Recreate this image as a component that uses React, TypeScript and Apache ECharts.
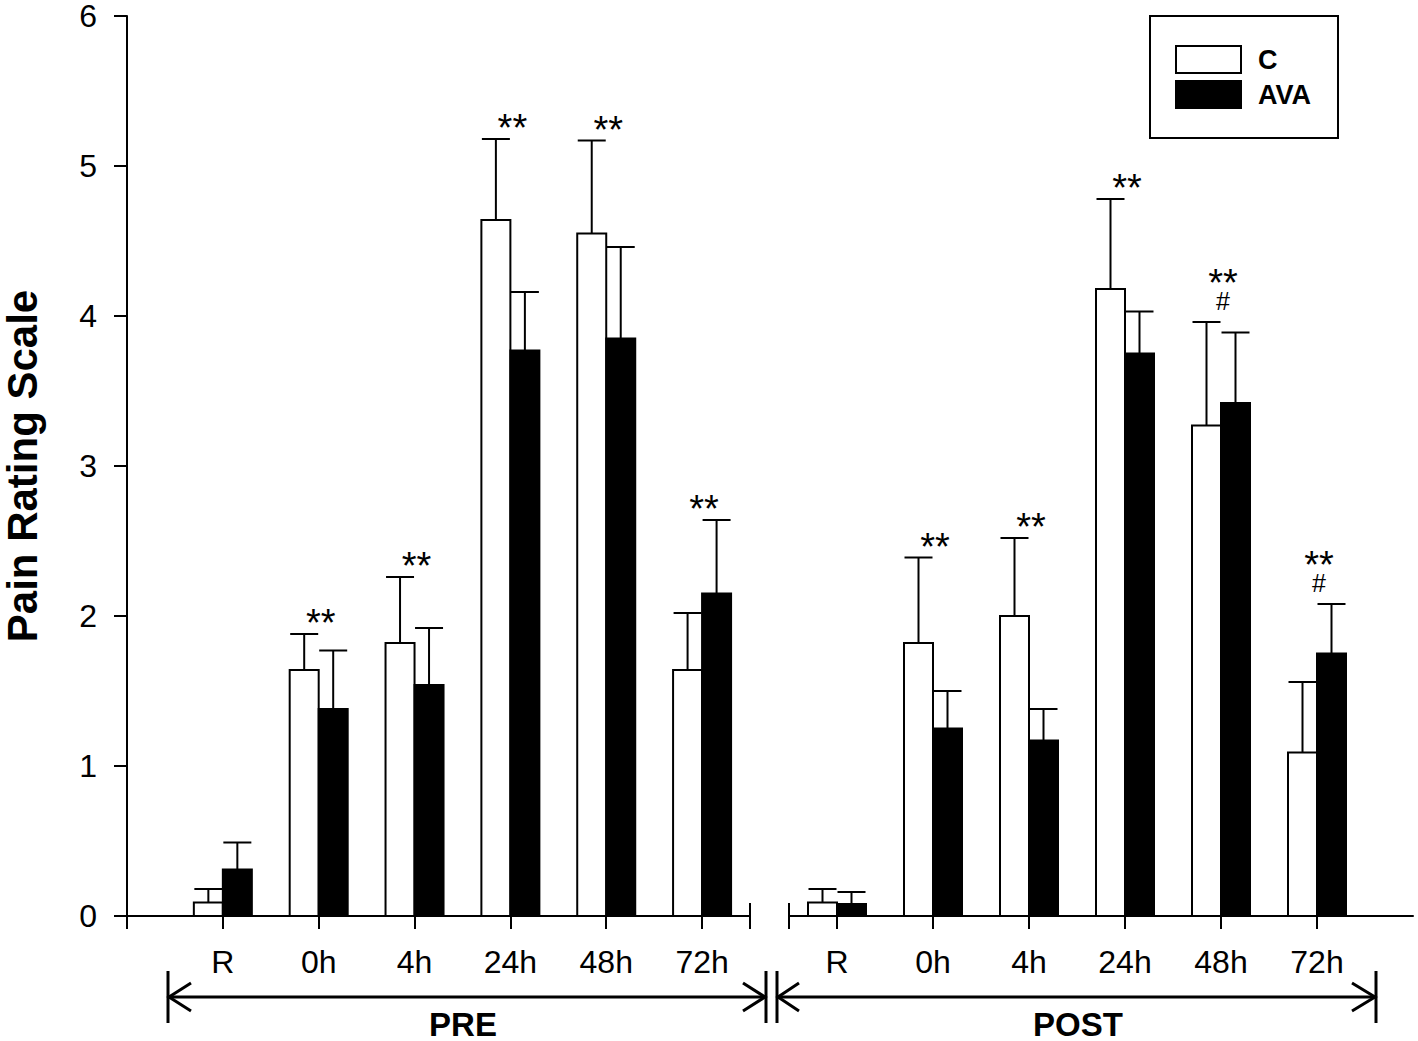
import { useEffect, useRef } from "react";
import * as echarts from "echarts";

const FONT = "'Liberation Sans', Arial, Helvetica, sans-serif";

// Time points (same for PRE and POST blocks)
const categories = ["R", "0h", "4h", "24h", "48h", "72h"];
const positions = [1, 2, 3, 4, 5, 6];

// PRE block
const preC = [0.09, 1.64, 1.82, 4.64, 4.55, 1.64];
const preCUpper = [0.18, 1.88, 2.26, 5.18, 5.17, 2.02];
const preAVA = [0.31, 1.38, 1.54, 3.77, 3.85, 2.15];
const preAVAUpper = [0.49, 1.77, 1.92, 4.16, 4.46, 2.64];

// POST block
const postC = [0.09, 1.82, 2.0, 4.18, 3.27, 1.09];
const postCUpper = [0.18, 2.39, 2.52, 4.78, 3.96, 1.56];
const postAVA = [0.08, 1.25, 1.17, 3.75, 3.42, 1.75];
const postAVAUpper = [0.16, 1.5, 1.38, 4.03, 3.89, 2.08];

// Significance marks
const preStars = ["", "**", "**", "**", "**", "**"];
const preHash = ["", "", "", "", "", ""];
const postStars = ["", "**", "**", "**", "**", "**"];
const postHash = ["", "", "", "", "#", "#"];

const yTicks = [0, 1, 2, 3, 4, 5, 6];

const BAR_W = 29;

function barSeries(
  name: string,
  axisIndex: number,
  means: number[],
  uppers: number[],
  side: number,
  fill: string
) {
  return {
    type: "custom",
    name,
    xAxisIndex: axisIndex,
    yAxisIndex: axisIndex,
    itemStyle: { color: fill, borderColor: "#000", borderWidth: 2 },
    encode: { x: 0, y: [1, 2] },
    data: positions.map((p, i) => [p, means[i], uppers[i]]),
    renderItem: (_params: any, api: any) => {
      const x = api.value(0);
      const v = api.value(1);
      const u = api.value(2);
      const base = api.coord([x, 0]);
      const top = api.coord([x, v]);
      const up = api.coord([x, u]);
      const left = side < 0 ? base[0] - BAR_W : base[0];
      const cx = left + BAR_W / 2;
      return {
        type: "group",
        children: [
          {
            type: "line",
            shape: { x1: cx, y1: top[1], x2: cx, y2: up[1] },
            style: { stroke: "#000", lineWidth: 2 },
          },
          {
            type: "line",
            shape: { x1: cx - 14, y1: up[1], x2: cx + 14, y2: up[1] },
            style: { stroke: "#000", lineWidth: 2 },
          },
          {
            type: "rect",
            shape: { x: left, y: top[1], width: BAR_W, height: base[1] - top[1] },
            style: { fill, stroke: "#000", lineWidth: 2 },
          },
        ],
      };
    },
  };
}

function markSeries(
  axisIndex: number,
  cUp: number[],
  aUp: number[],
  stars: string[],
  hashes: string[]
) {
  const data: any[] = [];
  positions.forEach((p, i) => {
    if (stars[i] || hashes[i]) data.push([p, Math.max(cUp[i], aUp[i]), i]);
  });
  return {
    type: "custom",
    xAxisIndex: axisIndex,
    yAxisIndex: axisIndex,
    silent: true,
    encode: { x: 0, y: 1 },
    data,
    renderItem: (_params: any, api: any) => {
      const x = api.value(0);
      const u = api.value(1);
      const i = api.value(2);
      const p = api.coord([x, u]);
      const hasHash = !!hashes[i];
      const children: any[] = [];
      children.push({
        type: "text",
        x: p[0] + 2,
        y: p[1] - (hasHash ? 39 : 11),
        style: {
          text: stars[i],
          fontSize: 38,
          fontFamily: FONT,
          fill: "#000",
          align: "center",
          verticalAlign: "middle",
          lineHeight: 16,
        },
      });
      if (hasHash) {
        children.push({
          type: "text",
          x: p[0] + 2,
          y: p[1] - 21,
          style: {
            text: hashes[i],
            fontSize: 25,
            fontFamily: FONT,
            fill: "#000",
            align: "center",
            verticalAlign: "middle",
            lineHeight: 18,
          },
        });
      }
      return { type: "group", children };
    },
  };
}

export default function App() {
  const ref = useRef<HTMLDivElement>(null);

  useEffect(() => {
    document.body.style.margin = "0";
    if (!ref.current) return;
    const chart = echarts.init(ref.current, undefined, { renderer: "svg" });

    const axisLine = { show: true, lineStyle: { color: "#000", width: 2 } };
    const mainX = (min: number, max: number, tickVals: number[]) => ({
      type: "value",
      position: "bottom",
      min,
      max,
      axisLine: { ...axisLine, onZero: false },
      splitLine: { show: false },
      axisTick: {
        show: true,
        inside: false,
        length: 13,
        lineStyle: { color: "#000", width: 2 },
        customValues: tickVals,
      },
      axisLabel: {
        show: true,
        customValues: positions,
        formatter: (val: number) => categories[Math.round(val) - 1] ?? "",
        fontSize: 32,
        fontFamily: FONT,
        color: "#000",
        margin: 30,
      },
    });
    const breakX = (gridIndex: number, min: number, max: number, v: number) => ({
      type: "value",
      gridIndex,
      position: "bottom",
      min,
      max,
      axisLine: { show: false, onZero: false },
      splitLine: { show: false },
      axisTick: {
        show: true,
        inside: true,
        length: 13,
        lineStyle: { color: "#000", width: 2 },
        customValues: [v],
      },
      axisLabel: { show: false },
    });

    const option: any = {
      animation: false,
      backgroundColor: "#fff",
      textStyle: { fontFamily: FONT },
      grid: [
        { left: 126, top: 16, width: 624, height: 900 },
        { left: 789, top: 16, width: 624, height: 900 },
      ],
      xAxis: [
        { ...mainX(0, 6.5, [0, 1, 2, 3, 4, 5, 6, 6.5]), gridIndex: 0 },
        { ...mainX(0.5, 7, [0.5, 1, 2, 3, 4, 5, 6]), gridIndex: 1 },
        breakX(0, 0, 6.5, 6.5),
        breakX(1, 0.5, 7, 0.5),
      ],
      yAxis: [
        {
          type: "value",
          gridIndex: 0,
          min: 0,
          max: 6,
          interval: 1,
          name: "Pain Rating Scale",
          nameLocation: "middle",
          nameRotate: 90,
          nameGap: 84,
          nameTextStyle: {
            fontSize: 42,
            fontWeight: "bold",
            fontFamily: FONT,
            color: "#000",
          },
          axisLine,
          splitLine: { show: false },
          axisTick: {
            show: true,
            inside: false,
            length: 13,
            lineStyle: { color: "#000", width: 2 },
          },
          axisLabel: {
            fontSize: 32,
            lineHeight: 22,
            fontFamily: FONT,
            color: "#000",
            margin: 30,
            customValues: yTicks,
          },
        },
        {
          type: "value",
          gridIndex: 1,
          min: 0,
          max: 6,
          interval: 1,
          show: false,
          splitLine: { show: false },
        },
      ],
      legend: {
        orient: "vertical",
        left: 1150,
        top: 16,
        padding: [29, 27, 29, 25],
        borderColor: "#000",
        borderWidth: 2,
        backgroundColor: "#fff",
        itemWidth: 65,
        itemHeight: 27,
        itemGap: 6,
        textStyle: {
          fontSize: 27,
          fontWeight: "bold",
          fontFamily: FONT,
          color: "#000",
          padding: [0, 0, 0, 12],
        },
        data: [
          {
            name: "C",
            icon: "rect",
            itemStyle: { color: "#fff", borderColor: "#000", borderWidth: 2 },
          },
          {
            name: "AVA",
            icon: "rect",
            itemStyle: { color: "#000", borderColor: "#000", borderWidth: 2 },
          },
        ],
      },
      series: [
        barSeries("C", 0, preC, preCUpper, -1, "#fff"),
        barSeries("AVA", 0, preAVA, preAVAUpper, 1, "#000"),
        barSeries("C", 1, postC, postCUpper, -1, "#fff"),
        barSeries("AVA", 1, postAVA, postAVAUpper, 1, "#000"),
        markSeries(0, preCUpper, preAVAUpper, preStars, preHash),
        markSeries(1, postCUpper, postAVAUpper, postStars, postHash),
      ],
      graphic: [
        // PRE bracket arrow
        { type: "line", shape: { x1: 168, y1: 971, x2: 168, y2: 1023 }, style: { stroke: "#000", lineWidth: 3 } },
        { type: "line", shape: { x1: 168, y1: 997, x2: 765, y2: 997 }, style: { stroke: "#000", lineWidth: 3 } },
        { type: "polyline", shape: { points: [[191, 983], [169, 997], [191, 1011]] }, style: { stroke: "#000", lineWidth: 3, fill: null } },
        { type: "polyline", shape: { points: [[743, 983], [765, 997], [743, 1011]] }, style: { stroke: "#000", lineWidth: 3, fill: null } },
        { type: "line", shape: { x1: 766, y1: 971, x2: 766, y2: 1023 }, style: { stroke: "#000", lineWidth: 3 } },
        // POST bracket arrow
        { type: "line", shape: { x1: 777, y1: 971, x2: 777, y2: 1023 }, style: { stroke: "#000", lineWidth: 3 } },
        { type: "line", shape: { x1: 777, y1: 997, x2: 1376, y2: 997 }, style: { stroke: "#000", lineWidth: 3 } },
        { type: "polyline", shape: { points: [[799, 983], [778, 997], [799, 1011]] }, style: { stroke: "#000", lineWidth: 3, fill: null } },
        { type: "polyline", shape: { points: [[1352, 983], [1375, 997], [1352, 1011]] }, style: { stroke: "#000", lineWidth: 3, fill: null } },
        { type: "line", shape: { x1: 1376, y1: 971, x2: 1376, y2: 1023 }, style: { stroke: "#000", lineWidth: 3 } },
        {
          type: "text",
          x: 463,
          y: 1024,
          style: { text: "PRE", fontSize: 33, lineHeight: 28, fontWeight: "bold", fontFamily: FONT, fill: "#000", align: "center", verticalAlign: "middle" },
        },
        {
          type: "text",
          x: 1078,
          y: 1024,
          style: { text: "POST", fontSize: 33, lineHeight: 28, fontWeight: "bold", fontFamily: FONT, fill: "#000", align: "center", verticalAlign: "middle" },
        },
      ],
    };

    chart.setOption(option);
    return () => chart.dispose();
  }, []);

  return <div ref={ref} style={{ width: 1418, height: 1041 }} />;
}
